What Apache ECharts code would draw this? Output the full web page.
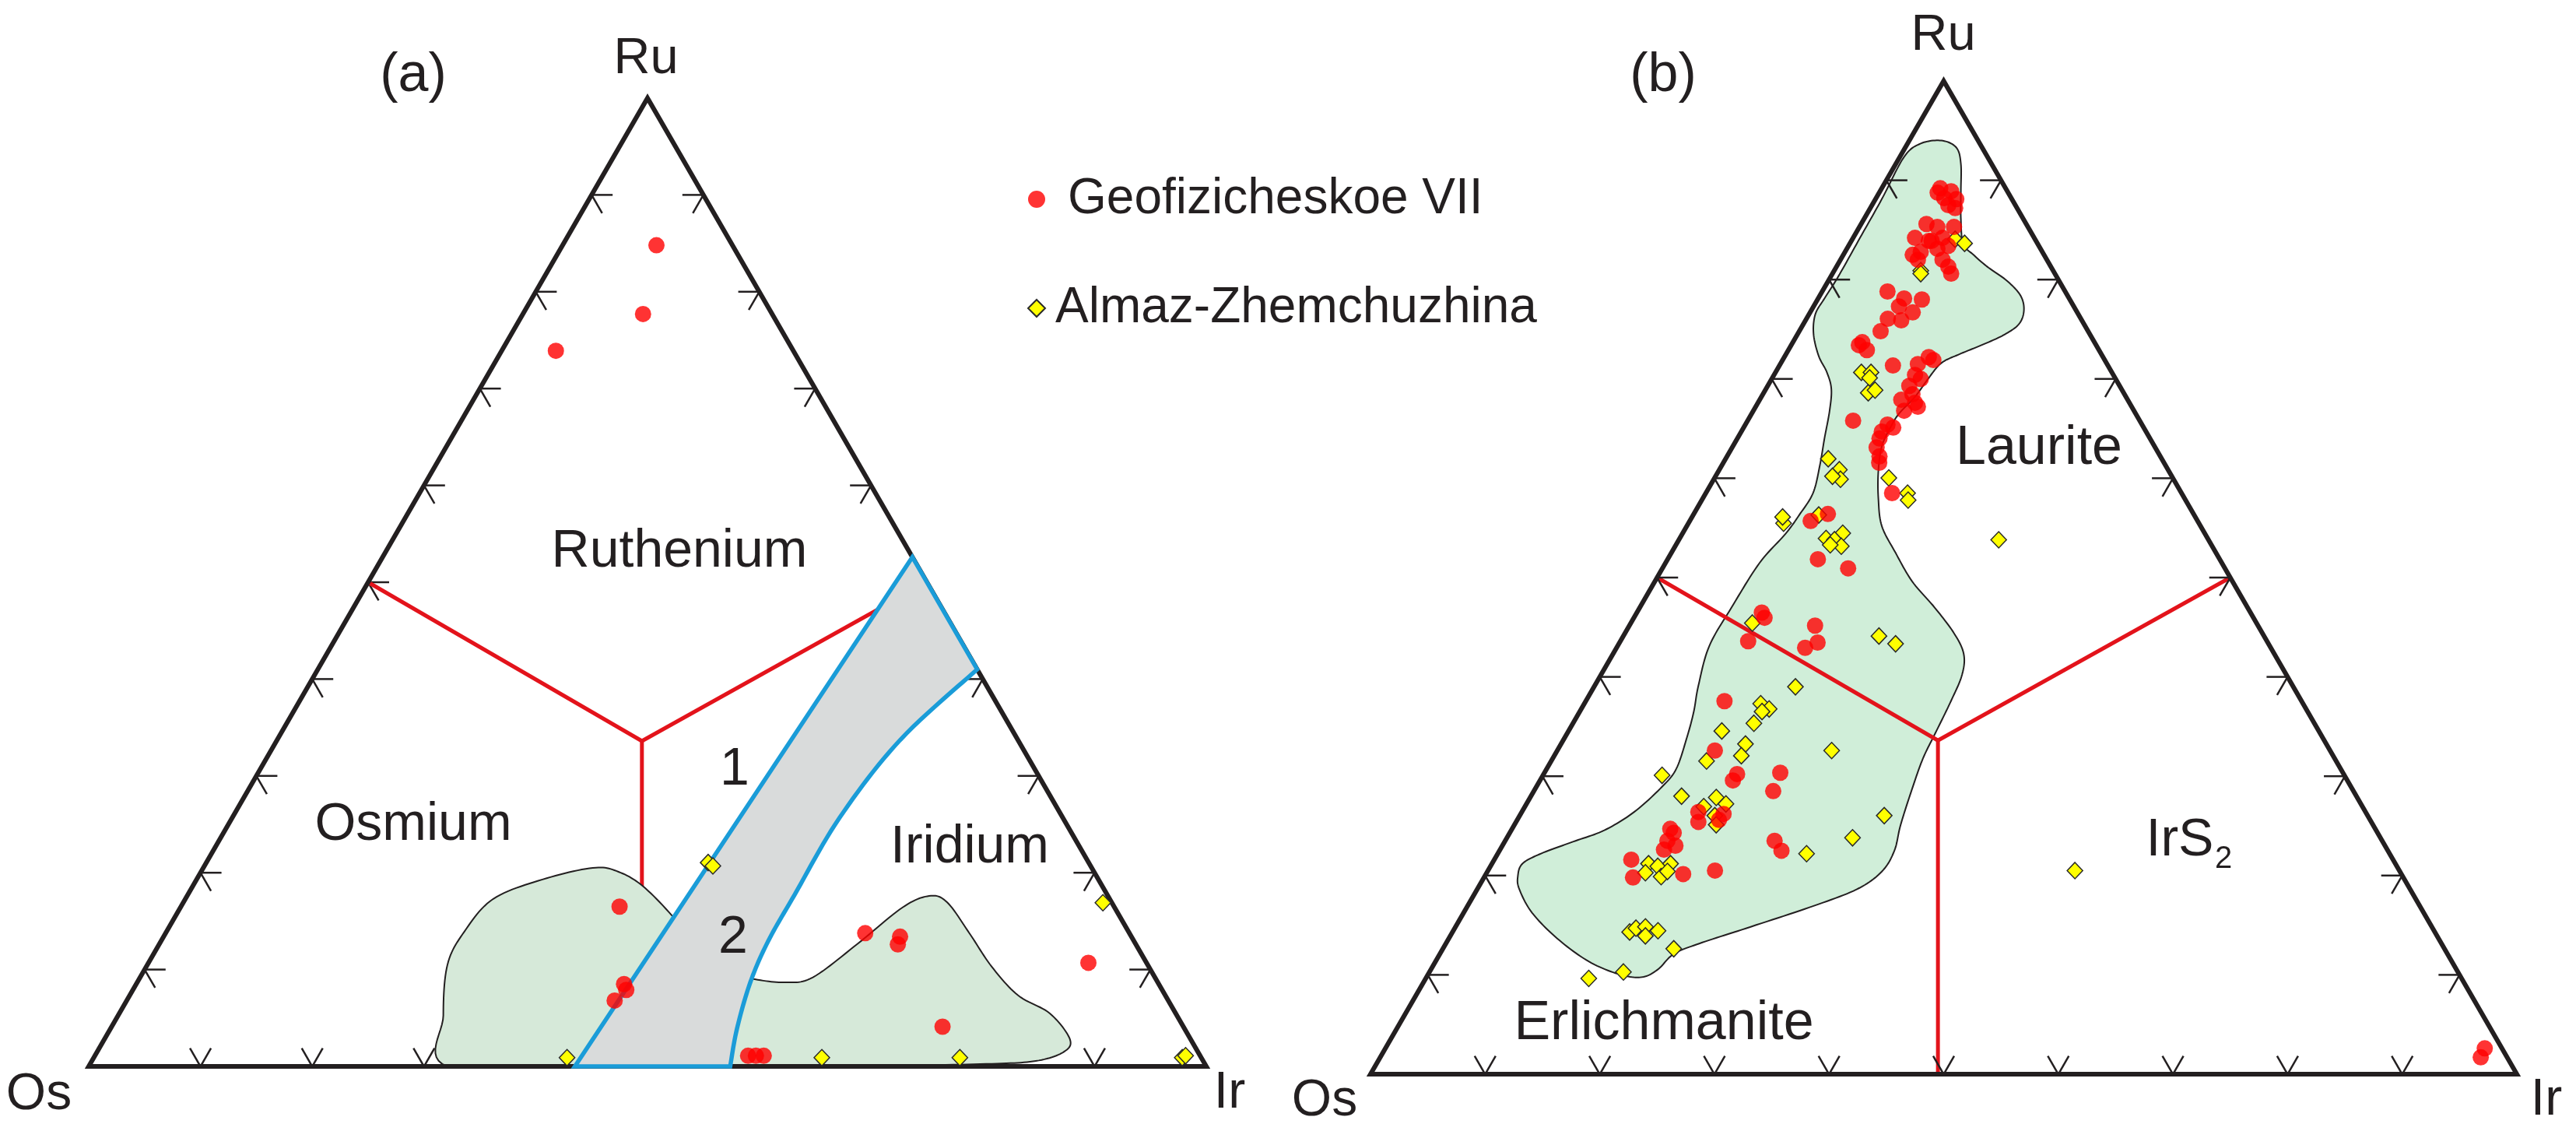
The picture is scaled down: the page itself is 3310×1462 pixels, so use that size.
<!DOCTYPE html>
<html><head><meta charset="utf-8">
<script src="https://cdn.jsdelivr.net/npm/echarts@6/dist/echarts.min.js"></script>
<style>html,body{margin:0;padding:0;background:#fff}#main{width:3310px;height:1462px}</style>
</head><body><div id="main"></div>
<script>
// All compositions are ternary [Ir, Ru] in percent; Os = 100 - Ir - Ru
const S3 = Math.sqrt(3) / 2;
const tickValues = [10, 20, 30, 40, 50, 60, 70, 80, 90];
const seriesNames = ['Geofizicheskoe VII', 'Almaz-Zhemchuzhina'];

// ---- (a) Os-Ir-Ru alloys ----
const aGeofiz = [[8.4,84.8],[10.75,77.7],[4.85,73.9],[39.25,16.5],[43.65,8.5],[44.15,7.9],[43.66,6.8],
  [62.6,13.76],[66.1,12.6],[65.9,13.4],[74.35,4.1],[84.1,10.7],[58.45,1.1],[59.15,1.1],[59.85,1.1]];
const aAlmaz = [[44.9,21.05],[45.5,20.7],[42.35,0.9],[65.15,0.9],[77.5,0.9],[82.3,16.9],[97.4,0.9],[97.6,1.1]];
const aGreenField = [[32.1,0],[29.1,5.26],[26.85,10.5],[26.65,13.9],[27.55,17.3],[30.95,19.3],[34.85,20.5],
  [37.35,20.1],[40.6,18.4],[45.75,14.5],[51,10],[55.1,9.0],[58.06,8.68],[60.2,9.2],[62.47,12.66],[64.6,16.4],
  [66.4,17.6],[68.32,16.96],[71.93,13.75],[75.65,10.3],[79.5,7.33],[83.27,5.47],[86.4,2.8],[86.47,1.46],
  [84.47,0.56],[80.67,0.27],[72.75,0.1],[60,0],[45,0]];
const aGreyStraight = [[43.5,0],[47.4,52.6]];
const aGreyCurve = [[59.0,41.0],[55.75,33.7],[54.35,25.7],[54.3,17.7],[54.33,12.94],[54.86,8.68],[56.07,3.86],[57.4,0]];

// ---- (b) Os-Ir-Ru sulfides ----
const bGeofiz = [[5.1,89.2],[6.2,88.9],[7.05,88.1],[6.65,87.5],[7.4,87.2],[5.1,88.75],[5.95,88.2],
  [5.7,85.6],[6.8,85.3],[8.25,85.3],[5.4,84.2],[6.75,83.9],[7.8,84.2],[6.6,82.8],[7.9,83.1],[8.7,83.4],
  [6.75,82.0],[8.9,82.0],[9.75,81.3],[10.35,80.6],[6.05,82.5],[7.0,83.9],
  [5.7,78.8],[7.5,78.1],[9.1,78.0],[7.45,77.3],[8.95,76.7],[7.1,76.05],[8.35,75.9],[7.1,74.8],[6.05,73.7],
  [5.9,73.4],[6.85,72.9],
  [9.9,71.35],[12.6,72.2],[12.0,71.5],[13.15,71.9],[12.3,70.4],[13.0,70.0],[12.35,69.3],[13.05,68.45],
  [12.35,67.9],[13.7,67.6],[13.15,66.8],[14.15,67.2],[12.4,65.4],[12.25,64.7],[13.05,65.1],[12.4,64.0],
  [12.6,63.1],[13.3,62.2],[13.6,61.55],[9.2,65.8],[16.25,58.5],
  [11.7,56.4],[10.55,55.7],[13.1,51.85],[16.2,50.93],[10.9,46.47],[11.4,45.95],[11.15,43.59],[16.2,45.16],
  [17.27,43.46],[16.45,42.93],[12.1,37.56],[13.75,32.58],[16.87,30.22],[16.83,29.57],[20.57,30.35],
  [20.88,28.5],[15.4,26.4],[15.9,25.4],[17.7,26.2],[17.6,25.6],
  [13.8,24.7],[14.3,24.3],[14.15,23.5],[15.1,23.0],[14.3,22.6],[11.95,21.6],[13.0,19.8],[17.2,20.15],
  [19.8,20.5],[23.5,23.5],[24.6,22.5],[95.9,2.6],[96.0,1.7]];
const bAlmaz = [[8.97,84.06],[10.0,83.65],[7.55,80.9],[7.7,80.6],
  [7.49,70.66],[8.33,70.66],[8.49,70.1],[9.12,68.6],[9.58,68.87],
  [15.2,60.03],[17.6,58.5],[18.0,57.8],[8.95,61.96],[10.47,60.86],[11.05,59.9],[10.2,60.2],
  [27.9,53.8],[8.3,55.47],[10.95,56.3],[7.9,56.1],
  [13.96,54.47],[12.77,53.94],[13.57,53.81],[14.49,53.16],[13.46,53.29],
  [10.6,45.42],[22.3,44.11],[24.14,43.33],[17.57,39.0],[15.39,37.3],[16.39,36.77],[15.9,36.51],
  [15.78,35.33],[13.37,34.55],[16.09,33.24],[16.32,32.06],[13.55,31.53],[10.39,30.09],[23.94,32.58],
  [13.14,27.99],[16.23,27.86],[17.4,27.21],[15.6,26.94],[17.02,26.03],[17.6,25.11],[31.8,26.03],
  [30.15,23.8],[26.94,22.2],
  [13.66,21.19],[14.6,20.93],[15.58,21.19],[13.84,20.28],[15.41,19.89],[15.7,20.41],
  [15.45,14.31],[15.81,14.7],[16.57,14.83],[17.02,13.92],[17.86,14.44],[20.14,12.63],[16.92,10.29],
  [14.22,9.64],[51.2,20.5]];
const bGreenField = [[2.8,94.0],[4.45,93.3],[5.67,91.66],[7.05,88.9],[8.45,86.1],[9.9,83.6],[11.35,82.5],
  [13.15,81.3],[15.55,79.9],[17.5,78.4],[18.55,76.9],[18.8,75.5],[18.0,74.4],[16.6,73.4],[15.15,72.5],
  [14.0,71.6],[13.65,70.1],[13.4,68.2],[12.85,66.5],[12.8,65.1],[13.0,63.2],[13.95,60.7],[15.3,58.0],
  [17.0,55.2],[19.55,52.5],[22.46,49.6],[25.7,47.0],[28.7,44.4],[30.6,42.3],[31.5,40.2],[31.85,37.6],
  [32.1,34.4],[32.3,31.8],[32.9,28.65],[33.7,25.08],[34.45,22.5],[34.4,20.4],[33.1,18.6],[29.9,16.8],
  [25.45,14.7],[22.1,13.15],[20.4,12.1],[19.8,10.55],[18.8,9.77],[16.76,10.03],[13.4,11.33],[9.46,13.66],
  [5.96,16.26],[3.69,18.6],[2.9,19.9],[2.66,21.2],[3.8,22.23],[5.96,23.4],[8.12,24.56],[9.8,26.4],
  [10.95,28.9],[11.3,30.75],[10.65,33.9],[9.95,36.5],[9.05,39.1],[8.0,43.1],[8.0,47.0],[8.2,51.45],
  [9.0,54.4],[9.25,56.3],[9.35,58.5],[8.55,61.3],[7.6,64.0],[6.65,66.8],[5.7,69.0],[4.45,70.7],
  [2.95,72.3],[1.4,74.5],[0.55,76.5],[0.55,78.1],[0.65,80.3],[0.6,84.2],[0.55,88.1],[0.37,92.35],[1.15,93.7]];

// field boundaries (both diagrams): three lines meeting at a junction
const boundaryJunction = [32.7, 33.6];
const boundaryEnds = [[0, 50], [50, 50], [49.5, 0]];

// ---------- helpers ----------
const toXY = c => [c[0] + c[1] / 2, c[1] * S3];
function catmull(pts, closed, n) {
  const out = [], L = pts.length;
  const get = i => closed ? pts[(i + L) % L] : pts[Math.max(0, Math.min(L - 1, i))];
  const segs = closed ? L : L - 1;
  for (let i = 0; i < segs; i++) {
    const p0 = get(i - 1), p1 = get(i), p2 = get(i + 1), p3 = get(i + 2);
    for (let k = 0; k < n; k++) {
      const t = k / n, t2 = t * t, t3 = t2 * t;
      out.push([0, 1].map(d => 0.5 * (2 * p1[d] + (-p0[d] + p2[d]) * t +
        (2 * p0[d] - 5 * p1[d] + 4 * p2[d] - p3[d]) * t2 + (-p0[d] + 3 * p1[d] - 3 * p2[d] + p3[d]) * t3)));
    }
  }
  if (!closed) out.push(pts[L - 1]);
  return out;
}
const INK = '#231f20';
function custom(idx, z, draw) {
  return { type: 'custom', xAxisIndex: idx, yAxisIndex: idx, z: z, silent: true, clip: false,
    data: [[50, 40]], renderItem: (p, api) => draw(api) };
}
function fieldSeries(idx, pts, fill, z) {
  return custom(idx, z, api => {
    const dense = catmull(pts.map(toXY), true, 12).map(q => [q[0], Math.max(0, q[1])]);
    return { type: 'polygon', shape: { points: dense.map(q => api.coord(q)) },
      style: { fill: fill, stroke: INK, lineWidth: 2 } };
  });
}
function greySeries(idx, z) {
  return custom(idx, z, api => {
    const curve = catmull(aGreyCurve.map(toXY), false, 12);
    const pts = aGreyStraight.map(toXY).concat(curve).map(q => api.coord(q));
    return { type: 'polygon', shape: { points: pts },
      style: { fill: '#d9dbdb', stroke: '#1a9cd8', lineWidth: 5.5, lineJoin: 'miter' } };
  });
}
function frameSeries(idx, z) {
  return custom(idx, z, api => ({ type: 'polygon',
    shape: { points: [[0, 0], [100, 0], [0, 100]].map(c => api.coord(toXY(c))) },
    style: { fill: 'none', stroke: INK, lineWidth: 6, lineJoin: 'miter' } }));
}
function tickSeries(idx, z) {
  const TICK = 27;
  const edges = [
    { pt: v => [0, v], dirs: [[1, 0], [0.5, 0.866]] },
    { pt: v => [100 - v, v], dirs: [[-1, 0], [-0.5, 0.866]] },
    { pt: v => [v, 0], dirs: [[-0.5, -0.866], [0.5, -0.866]] }
  ];
  return custom(idx, z, api => {
    const children = [];
    edges.forEach(e => tickValues.forEach(v => {
      const p = api.coord(toXY(e.pt(v)));
      e.dirs.forEach(d => children.push({ type: 'line',
        shape: { x1: p[0], y1: p[1], x2: p[0] + d[0] * TICK, y2: p[1] + d[1] * TICK },
        style: { stroke: INK, lineWidth: 2.5 } }));
    }));
    return { type: 'group', children: children };
  });
}
function boundarySeries(idx, z) {
  return custom(idx, z, api => ({ type: 'group', children: boundaryEnds.map(e => ({
    type: 'line', shape: (() => { const a = api.coord(toXY(boundaryJunction)), b = api.coord(toXY(e));
      return { x1: a[0], y1: a[1], x2: b[0], y2: b[1] }; })(),
    style: { stroke: '#e3131b', lineWidth: 5 } })) }));
}
function scatter(idx, name, data, z) {
  const geo = name === seriesNames[0];
  return { name: name, type: 'scatter', xAxisIndex: idx, yAxisIndex: idx, z: z, clip: false,
    data: data.map(toXY), symbol: geo ? 'circle' : 'diamond', symbolSize: geo ? 21 : [20, 21],
    itemStyle: geo ? { color: '#ff0000' } : { color: '#ffff00', borderColor: '#2a2a2a', borderWidth: 1.5, opacity: 1 },
    emphasis: { disabled: true } };
}
const F = 'Liberation Sans, Arial, sans-serif';
function txt(text, x, y, size) {
  return { type: 'text', x: x, y: y, z: 100, silent: true,
    style: { text: text, fontSize: size, fontFamily: F, fill: INK, align: 'center', verticalAlign: 'middle' } };
}

const option = {
  animation: false,
  grid: [{ left: 114, top: 126, width: 1436, height: 1244 }, { left: 1761, top: 104, width: 1473, height: 1276 }],
  xAxis: [0, 1].map(i => ({ gridIndex: i, type: 'value', min: 0, max: 100, show: false })),
  yAxis: [0, 1].map(i => ({ gridIndex: i, type: 'value', min: 0, max: 100 * S3, show: false })),
  legend: { orient: 'vertical', left: 1315, top: 218, itemWidth: 22, itemHeight: 22, itemGap: 74,
    selectedMode: false,
    data: [{ name: seriesNames[0], textStyle: { padding: [0, 0, 0, 24] } },
           { name: seriesNames[1], textStyle: { padding: [0, 0, 0, 8] } }],
    textStyle: { fontSize: 64, fontFamily: F, color: INK, lineHeight: 66 } },
  series: [
    tickSeries(0, 1), boundarySeries(0, 2), fieldSeries(0, aGreenField, '#d6e9d9', 3), frameSeries(0, 4),
    greySeries(0, 5),
    scatter(0, seriesNames[1], aAlmaz, 8), scatter(0, seriesNames[0], aGeofiz, 9),
    fieldSeries(1, bGreenField, '#d0eed9', 1), boundarySeries(1, 2), tickSeries(1, 3), frameSeries(1, 4),
    scatter(1, seriesNames[1], bAlmaz, 8), scatter(1, seriesNames[0], bGeofiz, 9)
  ],
  graphic: [
    txt('Ru', 830, 76, 65), txt('Os', 50, 1407, 66), txt('Ir', 1580, 1405, 66), txt('(a)', 531, 98, 70),
    txt('Ruthenium', 873, 709, 68), txt('Osmium', 531, 1060, 68), txt('Iridium', 1246, 1089, 68),
    txt('1', 944, 989, 68), txt('2', 942, 1205, 68),
    txt('Ru', 2497, 46, 65), txt('Os', 1702, 1415, 66), txt('Ir', 3272, 1414, 66), txt('(b)', 2137, 98, 70),
    txt('Laurite', 2620, 577, 70), txt('IrS', 2801, 1080, 68), txt('2', 2857, 1104, 40),
    txt('Erlichmanite', 2138, 1316, 70)
  ]
};
echarts.init(document.getElementById('main'), null, { renderer: 'canvas' }).setOption(option);
</script></body></html>
